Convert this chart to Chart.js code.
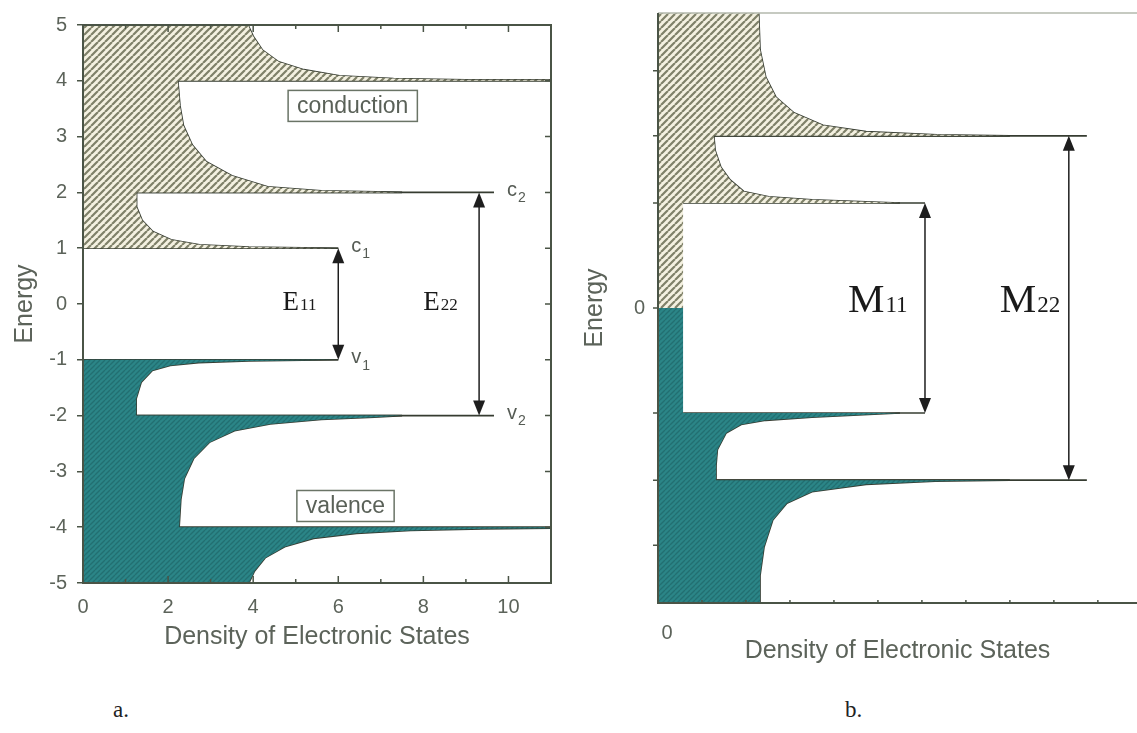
<!DOCTYPE html>
<html>
<head>
<meta charset="utf-8">
<script src="https://cdn.jsdelivr.net/npm/chart.js@4.4.1/dist/chart.umd.min.js"></script>
<style>
  body { margin: 0; background: #fff; width: 1137px; height: 733px; overflow: hidden; position: relative; }
  #wa { position: absolute; left: 0; top: 0; }
  #wb { position: absolute; left: 570px; top: 0; }
  .cap { position: absolute; top: 697px; font: 23px "Liberation Serif", serif; color: #222; }
</style>
</head>
<body>
<div id="wa"><canvas id="chartA" width="570" height="690"></canvas></div>
<div id="wb"><canvas id="chartB" width="567" height="690"></canvas></div>
<div class="cap" style="left:113px">a.</div>
<div class="cap" style="left:845px">b.</div>
<script>
Chart.defaults.font.family = '"Liberation Sans", Arial, sans-serif';
Chart.defaults.color = '#5c635a';

const FRAME = '#4a5446';
const LEVEL = '#363c31';
const INK = '#1e1e1e';

// ---- panel a : semiconducting tube, [DOS, energy] ----
const aCondEdge = [[6, 1], [3.9, 1.02], [2.74, 1.06], [2.07, 1.15], [1.64, 1.3], [1.39, 1.5], [1.26, 1.74], [1.26, 2],
  [7.5, 2], [6.9, 2.01], [5.6, 2.03], [4.34, 2.1], [3.5, 2.3], [2.9, 2.55], [2.57, 2.85], [2.36, 3.2], [2.28, 3.55], [2.23, 4],
  [11, 4], [11, 4.02], [9, 4.02], [7.3, 4.04], [6.03, 4.09], [5.19, 4.2], [4.6, 4.34], [4.22, 4.55], [4, 4.8], [3.88, 5]];
const aValEdge = [[6, -1], [3.9, -1.02], [2.72, -1.05], [2.05, -1.1], [1.63, -1.19], [1.37, -1.4], [1.25, -1.7], [1.25, -2],
  [7.5, -2], [6.85, -2.03], [5.6, -2.07], [4.4, -2.15], [3.56, -2.27], [2.97, -2.48], [2.6, -2.77], [2.38, -3.13], [2.3, -3.5], [2.26, -4],
  [11, -4], [11, -4.02], [9.4, -4.03], [7.7, -4.06], [6.43, -4.11], [5.42, -4.2], [4.74, -4.35], [4.28, -4.55], [4.03, -4.79], [3.9, -5]];
const aLevelE = [1, 2, 4, -1, -2, -4];
const aLevelFrom = [0, 1.26, 2.23, 0, 1.25, 2.26];
const aLevelTo = [6, 9.66, 11, 6, 9.66, 11];
const aLevelNames = ['c', 'c', '', 'v', 'v', ''];
const aLevelSubs = ['1', '2', '', '1', '2', ''];
const aArrowX = [6, 9.31];
const aArrowTop = [1, 2];
const aArrowBottom = [-1, -2];
const aArrowSubs = ['11', '22'];
const aArrowLabelX = [4.69, 8.0];
const aBoxText = ['conduction', 'valence'];
const aBoxX = [6.34, 6.17];
const aBoxE = [3.55, -3.62];
const aXTickLabels = [0, 2, 4, 6, 8, 10];

// ---- panel b : metallic tube ----
const bCondColumn = [[0, 0], [0.57, 0], [0.57, 1]];
const bValColumn = [[0, 0], [0.57, 0], [0.57, -1]];
const bCondEdge = [[5.5, 1], [3.5, 1.03], [2.52, 1.06], [1.95, 1.11], [1.64, 1.22], [1.43, 1.34], [1.3, 1.5], [1.27, 1.64],
  [8, 1.64], [6.34, 1.65], [4.73, 1.68], [3.75, 1.74], [3.09, 1.86], [2.68, 2.01], [2.45, 2.2], [2.32, 2.46], [2.29, 2.81]];
const bValEdge = [[5.5, -1], [3.5, -1.04], [2.45, -1.07], [1.89, -1.11], [1.55, -1.19], [1.35, -1.35], [1.32, -1.5], [1.32, -1.64],
  [8, -1.64], [6.3, -1.65], [4.73, -1.68], [3.5, -1.75], [2.93, -1.86], [2.61, -2.02], [2.41, -2.28], [2.32, -2.55], [2.32, -2.81]];
const bLevelE = [1, 1.64, -1, -1.64];
const bLevelFrom = [0.57, 1.27, 0.57, 1.32];
const bLevelTo = [6.07, 9.75, 6.07, 9.75];
const bArrowX = [6.07, 9.34];
const bArrowTop = [1, 1.64];
const bArrowBottom = [-1, -1.64];
const bArrowSubs = ['11', '22'];
const bArrowLabelX = [4.32, 7.77];
const bYTicks = [-2.26, -1.64, -1, 0, 1, 1.64, 2.26];
const bYTickLabels = [0];
const bXTickLabels = [0];

const pts = arr => arr.map(([x, y]) => ({x, y}));

function hatch(canvasId, bg, fg, step, width) {
  const c = document.createElement('canvas');
  c.width = step; c.height = step;
  const g = c.getContext('2d');
  g.fillStyle = bg;
  g.fillRect(0, 0, step, step);
  g.strokeStyle = fg;
  g.lineWidth = width;
  g.beginPath();
  for (let k = -1; k <= 1; k++) {
    g.moveTo(k * step, step);
    g.lineTo(k * step + step, 0);
  }
  g.stroke();
  return document.getElementById(canvasId).getContext('2d').createPattern(c, 'repeat');
}

function fillSet(data, bg) {
  return {data: pts(data), showLine: true, fill: 'shape', backgroundColor: bg, borderWidth: 0, pointRadius: 0};
}
function lineSet(data, color, w) {
  return {data: pts(data), showLine: true, fill: false, borderColor: color, borderWidth: w, pointRadius: 0};
}

function arrow(ctx, x, y1, y2) {
  const L = 15, W = 6;
  ctx.strokeStyle = INK; ctx.fillStyle = INK; ctx.lineWidth = 1.5;
  ctx.beginPath(); ctx.moveTo(x, y1 + L - 2); ctx.lineTo(x, y2 - L + 2); ctx.stroke();
  ctx.beginPath(); ctx.moveTo(x, y1); ctx.lineTo(x - W, y1 + L); ctx.lineTo(x + W, y1 + L); ctx.closePath(); ctx.fill();
  ctx.beginPath(); ctx.moveTo(x, y2); ctx.lineTo(x - W, y2 - L); ctx.lineTo(x + W, y2 - L); ctx.closePath(); ctx.fill();
}

function subLabel(ctx, x, y, main, sub, mainFont, subFont, dy) {
  ctx.font = mainFont;
  ctx.fillText(main, x, y);
  const w = ctx.measureText(main).width;
  ctx.font = subFont;
  ctx.fillText(sub, x + w + 1, y + dy);
}

function axisTitle(text, pad) {
  return {display: true, text, color: '#5c635a', font: {size: 25}, padding: pad};
}

// ---------------- chart a ----------------
const hatchA = hatch('chartA', '#f4f1e1', '#7f8169', 7, 2.2);
const tealA = hatch('chartA', '#2b8587', '#226f71', 5, 1.3);

const setsA = [fillSet([[0, 1], ...aCondEdge, [0, 5]], hatchA), fillSet([[0, -1], ...aValEdge, [0, -5]], tealA),
  lineSet(aCondEdge, LEVEL, 1.6), lineSet(aValEdge, LEVEL, 1.6)];
aLevelE.forEach((e, i) => setsA.push(lineSet([[aLevelFrom[i], e], [aLevelTo[i], e]], LEVEL, 1.6)));

new Chart(document.getElementById('chartA'), {
  type: 'scatter',
  data: {datasets: setsA},
  options: {
    responsive: false, animation: false,
    layout: {padding: {left: 0, right: 19, top: 25, bottom: 0}},
    plugins: {legend: {display: false}, tooltip: {enabled: false}},
    scales: {
      x: {
        type: 'linear', min: 0, max: 11,
        afterFit: s => { s.height = 107; },
        grid: {display: false, drawTicks: false},
        border: {display: false},
        ticks: {stepSize: 1, autoSkip: false, maxRotation: 0, padding: 12, font: {size: 20},
          callback: v => aXTickLabels.includes(v) ? String(v) : ''},
        title: axisTitle('Density of Electronic States', {top: 0, bottom: 38})
      },
      y: {
        type: 'linear', min: -5, max: 5,
        afterFit: s => { s.width = 83; },
        grid: {drawOnChartArea: false, drawTicks: true, tickLength: 6, color: FRAME, lineWidth: 1.5},
        border: {display: false},
        ticks: {stepSize: 1, padding: 10, font: {size: 20}},
        title: axisTitle('Energy', {top: 10, bottom: 0})
      }
    }
  },
  plugins: [{
    id: 'decorA',
    afterDatasetsDraw(chart) {
      const {ctx, chartArea: a, scales: {x, y}} = chart;
      ctx.save();
      ctx.strokeStyle = FRAME; ctx.lineWidth = 2;
      ctx.strokeRect(a.left, a.top, a.right - a.left, a.bottom - a.top);
      ctx.lineWidth = 1.5;
      ctx.beginPath();
      for (let v = 1; v <= 10; v++) {
        const px = x.getPixelForValue(v), len = v % 2 === 0 ? 7 : 4;
        ctx.moveTo(px, a.top); ctx.lineTo(px, a.top + len);
        ctx.moveTo(px, a.bottom); ctx.lineTo(px, a.bottom - len);
      }
      for (let v = -4; v <= 4; v++) {
        const py = y.getPixelForValue(v);
        ctx.moveTo(a.right, py); ctx.lineTo(a.right - 6, py);
      }
      ctx.stroke();

      aArrowX.forEach((v, i) => arrow(ctx, x.getPixelForValue(v), y.getPixelForValue(aArrowTop[i]), y.getPixelForValue(aArrowBottom[i])));

      ctx.fillStyle = '#555b54'; ctx.textBaseline = 'middle'; ctx.textAlign = 'left';
      aLevelNames.forEach((n, i) => {
        if (!n) return;
        subLabel(ctx, x.getPixelForValue(aLevelTo[i]) + 13, y.getPixelForValue(aLevelE[i]) - 2, n, aLevelSubs[i],
          '20px "Liberation Sans"', '14px "Liberation Sans"', 8);
      });

      ctx.textBaseline = 'alphabetic'; ctx.fillStyle = '#1a1a1a';
      aArrowSubs.forEach((s, i) => {
        subLabel(ctx, x.getPixelForValue(aArrowLabelX[i]), y.getPixelForValue(-0.1), 'E', s,
          '27px "Liberation Serif"', '17px "Liberation Serif"', 0);
      });

      ctx.textAlign = 'center'; ctx.textBaseline = 'middle';
      ctx.font = '23px "Liberation Sans"';
      aBoxText.forEach((t, i) => {
        const cx = x.getPixelForValue(aBoxX[i]), cy = y.getPixelForValue(aBoxE[i]);
        const w = ctx.measureText(t).width + 18, h = 31;
        ctx.fillStyle = '#fff';
        ctx.fillRect(cx - w / 2, cy - h / 2, w, h);
        ctx.strokeStyle = '#6a7466'; ctx.lineWidth = 1.5;
        ctx.strokeRect(cx - w / 2, cy - h / 2, w, h);
        ctx.fillStyle = '#5a6158';
        ctx.fillText(t, cx, cy + 1);
      });
      ctx.restore();
    }
  }]
});

// ---------------- chart b ----------------
const hatchB = hatch('chartB', '#f4f1e1', '#7f8169', 7, 2.2);
const tealB = hatch('chartB', '#2b8587', '#226f71', 5, 1.3);

const setsB = [fillSet([...bCondColumn, ...bCondEdge, [0, 2.81]], hatchB), fillSet([...bValColumn, ...bValEdge, [0, -2.81]], tealB),
  lineSet(bCondEdge, LEVEL, 1.6), lineSet(bValEdge, LEVEL, 1.6)];
bLevelE.forEach((e, i) => setsB.push(lineSet([[bLevelFrom[i], e], [bLevelTo[i], e]], LEVEL, 1.6)));

new Chart(document.getElementById('chartB'), {
  type: 'scatter',
  data: {datasets: setsB},
  options: {
    responsive: false, animation: false,
    layout: {padding: {left: 0, right: 0, top: 13, bottom: 0}},
    plugins: {legend: {display: false}, tooltip: {enabled: false}},
    scales: {
      x: {
        type: 'linear', min: 0, max: 10.89,
        afterFit: s => { s.height = 87; },
        grid: {display: false, drawTicks: true, tickLength: 18},
        border: {display: false},
        ticks: {stepSize: 1, autoSkip: false, maxRotation: 0, padding: 0, labelOffset: 9, font: {size: 20},
          callback: v => bXTickLabels.includes(v) ? String(v) : ''},
        title: axisTitle('Density of Electronic States', {top: 0, bottom: 24})
      },
      y: {
        type: 'linear', min: -2.81, max: 2.81,
        afterFit: s => { s.width = 88; },
        afterBuildTicks: s => { s.ticks = bYTicks.map(v => ({value: v})); },
        grid: {display: false, drawTicks: true, tickLength: 13},
        border: {display: false},
        ticks: {padding: 0, font: {size: 20}, callback: v => bYTickLabels.includes(v) ? String(v) : null},
        title: axisTitle('Energy', {top: 10, bottom: 0})
      }
    }
  },
  plugins: [{
    id: 'decorB',
    afterDatasetsDraw(chart) {
      const {ctx, chartArea: a, scales: {x, y}} = chart;
      ctx.save();
      ctx.strokeStyle = '#b3b8ad'; ctx.lineWidth = 1.5;
      ctx.beginPath(); ctx.moveTo(a.left, a.top); ctx.lineTo(a.right, a.top); ctx.stroke();
      ctx.strokeStyle = FRAME; ctx.lineWidth = 2;
      ctx.beginPath();
      ctx.moveTo(a.left, a.top); ctx.lineTo(a.left, a.bottom); ctx.lineTo(a.right, a.bottom);
      ctx.stroke();
      ctx.lineWidth = 1.5;
      ctx.beginPath();
      for (let v = 1; v <= 10; v++) {
        const px = x.getPixelForValue(v);
        ctx.moveTo(px, a.bottom); ctx.lineTo(px, a.bottom - 3);
      }
      bYTicks.forEach(v => {
        const py = y.getPixelForValue(v);
        ctx.moveTo(a.left, py); ctx.lineTo(a.left - 5, py);
      });
      ctx.stroke();

      bArrowX.forEach((v, i) => arrow(ctx, x.getPixelForValue(v), y.getPixelForValue(bArrowTop[i]), y.getPixelForValue(bArrowBottom[i])));

      ctx.textAlign = 'left'; ctx.textBaseline = 'alphabetic'; ctx.fillStyle = '#1a1a1a';
      bArrowSubs.forEach((s, i) => {
        subLabel(ctx, x.getPixelForValue(bArrowLabelX[i]), y.getPixelForValue(-0.04), 'M', s,
          '41px "Liberation Serif"', '23px "Liberation Serif"', 0);
      });
      ctx.restore();
    }
  }]
});
</script>
</body>
</html>
